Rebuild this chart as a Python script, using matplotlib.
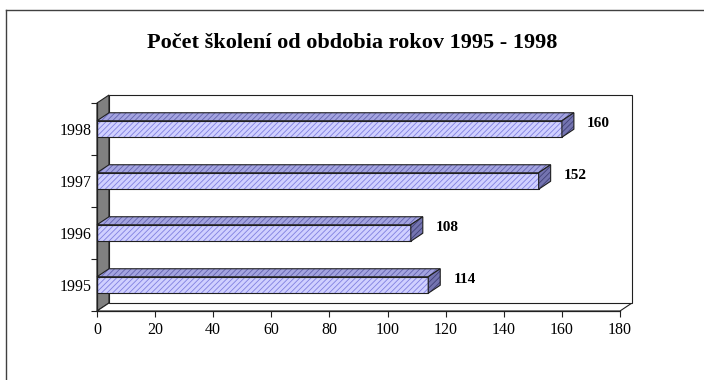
import numpy as np
import matplotlib
matplotlib.use('Agg')
import matplotlib.pyplot as plt
from matplotlib.patches import Polygon
from matplotlib.lines import Line2D

# number of trainings per year
years = ['1995', '1996', '1997', '1998']
counts = [114, 108, 152, 160]
title = 'Počet školení od obdobia rokov 1995 - 1998'
xticks = [0, 20, 40, 60, 80, 100, 120, 140, 160, 180]

plt.rcParams['font.family'] = ['Liberation Serif', 'DejaVu Serif']
plt.rcParams['hatch.linewidth'] = 0.6

W, H = 704, 380
fig = plt.figure(figsize=(W / 100, H / 100), dpi=100)

# axes covers the front plane plus the depth of the 3D box
xmax = 180
px_per_unit = (620 - 97) / xmax
ax = fig.add_axes([97 / W, 1 - 311 / H, (632 - 97) / W, (311 - 95) / H])
dx = 12 / px_per_unit          # depth offset in x (data units)
dy = 8 / 52                    # depth offset in y (category units)
ax.set_xlim(0, xmax + dx)
ax.set_ylim(-0.5, len(years) - 0.5 + dy)
for s in ax.spines.values():
    s.set_visible(False)

edge = '#202020'
y0, y1 = -0.5, len(years) - 0.5

# left side wall (gray)
ax.add_patch(Polygon([(0, y0), (dx, y0 + dy), (dx, y1 + dy), (0, y1)],
                     closed=True, fc='#808080', ec=edge, lw=0.8, clip_on=False))
# floor
ax.add_patch(Polygon([(0, y0), (xmax, y0), (xmax + dx, y0 + dy), (dx, y0 + dy)],
                     closed=True, fc='white', ec=edge, lw=0.8, clip_on=False))
# back wall
ax.add_patch(Polygon([(dx, y0 + dy), (xmax + dx, y0 + dy), (xmax + dx, y1 + dy), (dx, y1 + dy)],
                     closed=True, fc='white', ec=edge, lw=0.8, clip_on=False))


def face(pts, fc, hc):
    ax.add_patch(Polygon(pts, closed=True, fc=fc, ec=hc, lw=0, hatch='//////', clip_on=False))
    ax.add_patch(Polygon(pts, closed=True, fill=False, ec=edge, lw=0.8, clip_on=False))


h = 16.5 / 52
for i, v in enumerate(counts):
    b, t = i - h / 2, i + h / 2
    face([(0, b), (v, b), (v, t), (0, t)], '#d0d0ff', '#8080e0')
    face([(0, t), (v, t), (v + dx, t + dy), (dx, t + dy)], '#a4a4e0', '#6464b0')
    face([(v, b), (v + dx, b + dy), (v + dx, t + dy), (v, t)], '#7474b0', '#404078')
    ax.text(v + 12.5, i + 0.1, str(v), ha='center', va='center',
            fontsize=11, fontweight='bold')

# front edge of the floor and left axis line
ax.plot([0, xmax], [y0, y0], color=edge, lw=0.9, clip_on=False)
ax.plot([0, 0], [y0, y1], color=edge, lw=0.9, clip_on=False)

ax.set_xticks(xticks)
ax.set_xticklabels([str(t) for t in xticks])
ax.set_yticks(np.arange(len(years) + 1) - 0.5)
ax.set_yticklabels([])
ax.set_yticks(np.arange(len(years)), minor=True)
ax.set_yticklabels(years, minor=True)
ax.tick_params(axis='x', length=4, width=0.8, color=edge, pad=4, labelsize=11.5)
ax.tick_params(axis='y', which='major', length=4, width=0.8, color=edge)
ax.tick_params(axis='y', which='minor', length=0, pad=4, labelsize=11.5)

fig.text(352 / W, 1 - 43 / H, title, ha='center', va='center',
         fontsize=16, fontweight='bold')

# chart border (left and top edges visible)
fig.add_artist(Line2D([5.5 / W, 5.5 / W], [0, 1 - 9.5 / H], color='#404040', lw=1))
fig.add_artist(Line2D([5.5 / W, 1], [1 - 9.5 / H, 1 - 9.5 / H], color='#404040', lw=1))

fig.savefig('out.png', dpi=100)
